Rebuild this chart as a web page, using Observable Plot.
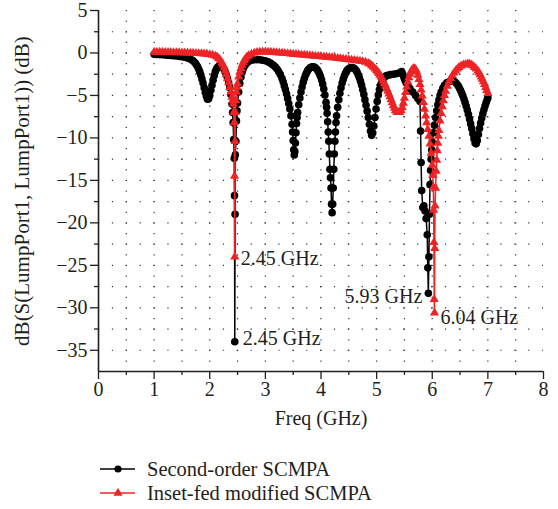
<!DOCTYPE html>
<html>
<head>
<meta charset="utf-8">
<script src="https://cdn.jsdelivr.net/npm/d3@7"></script>
<script src="https://cdn.jsdelivr.net/npm/@observablehq/plot@0.6"></script>
<style>
  body { margin: 0; background: #fff; }
  #chart svg, #legend { display: block; }
</style>
</head>
<body>
<div id="chart"></div>
<svg id="legend" width="558" height="69"></svg>
<script>
// ---- Data ----
const seriesNames = ["Second-order SCMPA", "Inset-fed modified SCMPA"];
const seriesColors = ["#000000", "#ee2326"];

// Series 1: Second-order SCMPA (black circles)
const blackF = [1.00,1.05,1.10,1.15,1.20,1.25,1.30,1.35,1.40,1.45,1.50,1.55,1.60,1.64,1.68,1.71,1.74,1.76,1.78,1.80,1.82,1.84,1.86,1.88,1.90,1.92,1.94,1.96,1.98,2.00,2.02,2.04,2.06,2.08,2.10,2.12,2.14,2.17,2.20,2.23,2.26,2.28,2.30,2.32,2.34,2.36,2.38,2.40,2.41,2.42,2.43,2.44,2.445,2.45,2.455,2.46,2.47,2.48,2.49,2.50,2.52,2.54,2.56,2.58,2.60,2.63,2.66,2.70,2.75,2.80,2.85,2.90,2.95,3.00,3.05,3.09,3.12,3.15,3.18,3.21,3.24,3.27,3.30,3.32,3.34,3.36,3.38,3.40,3.42,3.44,3.46,3.48,3.49,3.50,3.51,3.52,3.53,3.54,3.55,3.56,3.57,3.58,3.60,3.62,3.64,3.66,3.68,3.70,3.72,3.74,3.76,3.78,3.81,3.84,3.87,3.90,3.93,3.95,3.97,3.99,4.01,4.03,4.05,4.07,4.09,4.10,4.11,4.12,4.13,4.14,4.15,4.16,4.17,4.18,4.19,4.20,4.21,4.22,4.23,4.24,4.25,4.26,4.27,4.28,4.30,4.32,4.34,4.36,4.38,4.40,4.42,4.44,4.46,4.48,4.51,4.54,4.57,4.60,4.63,4.65,4.67,4.69,4.71,4.73,4.75,4.77,4.79,4.81,4.83,4.85,4.87,4.89,4.91,4.93,4.95,4.97,4.99,5.01,5.03,5.05,5.07,5.09,5.11,5.14,5.17,5.20,5.25,5.30,5.35,5.40,5.45,5.47,5.49,5.51,5.53,5.56,5.60,5.65,5.70,5.74,5.78,5.79,5.80,5.81,5.83,5.85,5.87,5.89,5.91,5.92,5.93,5.94,5.95,5.96,5.97,5.98,5.99,6.00,6.02,6.04,6.06,6.08,6.10,6.12,6.14,6.16,6.19,6.22,6.26,6.30,6.34,6.38,6.41,6.44,6.47,6.49,6.51,6.53,6.55,6.57,6.59,6.61,6.63,6.65,6.67,6.69,6.71,6.73,6.75,6.77,6.79,6.81,6.83,6.85,6.87,6.89,6.91,6.93,6.95,6.97,6.99,7.00];
const blackDb = [-0.15,-0.17,-0.19,-0.21,-0.24,-0.26,-0.29,-0.32,-0.36,-0.40,-0.45,-0.50,-0.58,-0.68,-0.82,-0.98,-1.18,-1.38,-1.60,-1.88,-2.20,-2.60,-3.05,-3.55,-4.10,-4.65,-5.10,-5.45,-5.40,-5.00,-4.40,-3.80,-3.20,-2.65,-2.20,-1.90,-1.70,-1.55,-1.55,-1.70,-1.95,-2.25,-2.60,-3.00,-3.50,-4.10,-4.90,-6.00,-7.00,-8.20,-10.20,-12.40,-16.80,-34.00,-19.00,-12.00,-10.40,-8.00,-6.80,-5.90,-4.60,-3.60,-2.85,-2.30,-1.90,-1.50,-1.22,-1.00,-0.85,-0.80,-0.78,-0.80,-0.85,-0.92,-1.05,-1.18,-1.32,-1.48,-1.66,-1.90,-2.20,-2.55,-3.00,-3.40,-3.85,-4.30,-4.80,-5.35,-5.95,-6.60,-7.40,-8.40,-9.30,-10.30,-11.40,-12.00,-11.60,-10.60,-9.40,-8.30,-7.60,-7.00,-6.10,-5.30,-4.60,-4.00,-3.45,-3.00,-2.62,-2.32,-2.08,-1.90,-1.72,-1.64,-1.64,-1.74,-1.95,-2.15,-2.42,-2.75,-3.15,-3.65,-4.25,-4.95,-5.80,-6.40,-7.10,-8.10,-9.30,-10.40,-11.90,-13.70,-14.70,-15.90,-17.80,-18.80,-17.80,-15.90,-13.70,-11.90,-10.40,-9.30,-8.20,-7.40,-6.40,-5.50,-4.75,-4.10,-3.55,-3.08,-2.70,-2.38,-2.14,-1.96,-1.80,-1.72,-1.72,-1.82,-2.05,-2.28,-2.58,-2.92,-3.32,-3.78,-4.30,-4.88,-5.50,-6.15,-6.85,-7.60,-8.40,-9.20,-9.70,-9.40,-8.60,-7.60,-6.60,-5.70,-4.95,-4.30,-3.80,-3.40,-3.10,-2.85,-2.70,-2.62,-2.55,-2.50,-2.45,-2.35,-2.20,-2.50,-2.85,-3.20,-3.50,-3.80,-4.20,-4.60,-5.00,-5.35,-5.70,-9.20,-12.90,-16.20,-18.20,-18.00,-18.60,-19.50,-21.40,-25.30,-28.30,-24.00,-19.00,-15.50,-13.80,-12.50,-11.40,-10.50,-9.40,-8.50,-7.60,-6.80,-6.10,-5.50,-5.00,-4.60,-4.15,-3.80,-3.52,-3.38,-3.30,-3.32,-3.42,-3.62,-3.90,-4.15,-4.42,-4.72,-5.05,-5.42,-5.82,-6.25,-6.72,-7.22,-7.76,-8.32,-8.90,-9.50,-10.10,-10.60,-10.70,-10.30,-9.60,-8.90,-8.25,-7.65,-7.12,-6.65,-6.22,-5.82,-5.45,-5.25];

// Series 2: Inset-fed modified SCMPA (red triangles)
const redF = [1.00,1.05,1.10,1.15,1.20,1.25,1.30,1.35,1.40,1.45,1.50,1.55,1.60,1.65,1.70,1.75,1.80,1.85,1.90,1.95,2.00,2.05,2.10,2.13,2.16,2.19,2.22,2.24,2.26,2.28,2.30,2.32,2.34,2.36,2.38,2.40,2.41,2.42,2.43,2.44,2.445,2.45,2.455,2.46,2.47,2.48,2.49,2.50,2.52,2.54,2.56,2.58,2.60,2.62,2.64,2.67,2.70,2.75,2.80,2.85,2.90,2.95,3.00,3.05,3.10,3.15,3.20,3.25,3.30,3.35,3.40,3.45,3.50,3.55,3.60,3.65,3.70,3.75,3.80,3.85,3.90,3.95,4.00,4.05,4.10,4.15,4.20,4.25,4.30,4.35,4.40,4.45,4.50,4.55,4.60,4.65,4.70,4.75,4.80,4.85,4.88,4.91,4.94,4.97,5.00,5.02,5.04,5.06,5.08,5.10,5.12,5.14,5.16,5.18,5.20,5.22,5.24,5.26,5.28,5.30,5.32,5.34,5.36,5.38,5.40,5.42,5.44,5.46,5.48,5.50,5.52,5.54,5.56,5.58,5.60,5.62,5.64,5.66,5.68,5.70,5.72,5.74,5.76,5.78,5.80,5.82,5.84,5.86,5.88,5.90,5.92,5.94,5.96,5.98,6.00,6.01,6.02,6.025,6.03,6.035,6.04,6.045,6.05,6.06,6.07,6.08,6.09,6.10,6.11,6.12,6.14,6.16,6.18,6.20,6.22,6.24,6.27,6.30,6.33,6.36,6.39,6.42,6.45,6.48,6.52,6.56,6.60,6.64,6.67,6.70,6.73,6.76,6.79,6.82,6.84,6.86,6.88,6.90,6.92,6.94,6.96,6.98,7.00];
const redDb = [0.10,0.10,0.10,0.10,0.09,0.08,0.07,0.06,0.05,0.04,0.03,0.02,0.01,0.00,-0.02,-0.04,-0.06,-0.08,-0.11,-0.14,-0.18,-0.25,-0.35,-0.45,-0.62,-0.85,-1.15,-1.40,-1.72,-2.10,-2.52,-3.00,-3.50,-4.05,-4.60,-5.20,-5.60,-6.00,-7.00,-8.20,-14.50,-24.00,-10.40,-7.00,-5.60,-4.60,-4.05,-3.60,-2.80,-2.25,-1.80,-1.42,-1.12,-0.88,-0.68,-0.45,-0.30,-0.12,0.00,0.08,0.12,0.14,0.14,0.12,0.10,0.08,0.05,0.02,0.00,-0.03,-0.06,-0.09,-0.12,-0.15,-0.18,-0.21,-0.24,-0.27,-0.30,-0.33,-0.36,-0.39,-0.42,-0.45,-0.48,-0.51,-0.54,-0.58,-0.62,-0.66,-0.70,-0.74,-0.78,-0.82,-0.86,-0.90,-0.95,-1.00,-1.08,-1.20,-1.32,-1.48,-1.66,-1.86,-2.05,-2.22,-2.40,-2.60,-2.82,-3.05,-3.30,-3.58,-3.88,-4.20,-4.50,-4.82,-5.15,-5.50,-5.85,-6.20,-6.50,-6.75,-6.92,-7.00,-7.00,-6.95,-6.75,-6.40,-5.90,-5.30,-4.65,-4.00,-3.40,-2.90,-2.48,-2.15,-1.95,-1.84,-1.82,-1.92,-2.20,-2.60,-3.10,-3.70,-4.35,-5.05,-5.80,-6.60,-7.40,-8.20,-9.00,-9.80,-10.70,-11.80,-13.20,-14.40,-15.80,-18.50,-22.30,-29.00,-30.60,-23.00,-18.00,-15.90,-13.90,-12.60,-11.50,-10.60,-9.80,-9.10,-8.00,-7.10,-6.30,-5.60,-5.00,-4.50,-3.90,-3.40,-3.00,-2.65,-2.35,-2.10,-1.88,-1.70,-1.52,-1.40,-1.32,-1.28,-1.30,-1.40,-1.52,-1.68,-1.88,-2.12,-2.32,-2.55,-2.80,-3.08,-3.38,-3.70,-4.05,-4.40,-4.75];

// Axis ticks
const xMajorTicks = [0, 1, 2, 3, 4, 5, 6, 7, 8];
const xMinorTicks = [0.5, 1.5, 2.5, 3.5, 4.5, 5.5, 6.5, 7.5];
const yMajorTicks = [5, 0, -5, -10, -15, -20, -25, -30, -35];
const yMinorTicks = [2.5, -2.5, -7.5, -12.5, -17.5, -22.5, -27.5, -32.5];
const xGrid = [0.5, 1, 1.5, 2, 2.5, 3, 3.5, 4, 4.5, 5, 5.5, 6, 6.5, 7, 7.5];
const yGrid = [2.5, 0, -2.5, -5, -7.5, -10, -12.5, -15, -17.5, -20, -22.5, -25, -27.5, -30, -32.5, -35];

// Annotations
const annF = [2.45, 2.45, 5.93, 6.04];
const annDb = [-24, -34, -28.3, -30.6];
const annLabel = ["2.45 GHz", "2.45 GHz", "5.93 GHz", "6.04 GHz"];

const xLabel = "Freq (GHz)";
const yLabel = "dB(S(LumpPort1, LumpPort1)) (dB)";

// ---- Build ----
const black = blackF.map((f, i) => ({f, db: blackDb[i]}));
const red = redF.map((f, i) => ({f, db: redDb[i]}));
const ann = annF.map((f, i) => ({f, db: annDb[i], label: annLabel[i], i}));

const ink = "#231f20";
const font = "Liberation Serif, Times New Roman, serif";
const minus = d => d < 0 ? "\u2212" + (-d) : String(d);

const chart = Plot.plot({
  width: 558,
  height: 440,
  marginLeft: 98,
  marginRight: 15,
  marginTop: 10,
  marginBottom: 69,
  style: {fontFamily: font, fontSize: "20px", color: ink, background: "#fff"},
  x: {domain: [0, 8]},
  y: {domain: [-37.5, 5]},
  marks: [
    Plot.ruleX(xGrid, {stroke: "#333", strokeWidth: 1.2, strokeDasharray: "1.2,9.42"}),
    Plot.ruleY(yGrid, {stroke: "#333", strokeWidth: 1.2, strokeDasharray: "1.2,12.675"}),
    Plot.line(black, {x: "f", y: "db", stroke: seriesColors[0], strokeWidth: 1.5}),
    Plot.dot(black, {x: "f", y: "db", r: 3.8, fill: seriesColors[0]}),
    Plot.line(red, {x: "f", y: "db", stroke: seriesColors[1], strokeWidth: 1.5}),
    Plot.dot(red, {x: "f", y: "db", r: 3.4, symbol: "triangle", fill: seriesColors[1]}),
    Plot.axisY({ticks: yMajorTicks, tickSize: 8, tickPadding: 3, tickFormat: minus, label: null, fontSize: 20, stroke: ink, strokeWidth: 1.3}),
    Plot.axisY({ticks: yMinorTicks, tickSize: 4, text: null, label: null, stroke: ink, strokeWidth: 1.3}),
    Plot.axisX({ticks: xMajorTicks, tickSize: 8, tickPadding: 2, tickFormat: minus, label: null, fontSize: 20, stroke: ink, strokeWidth: 1.3}),
    Plot.axisX({ticks: xMinorTicks, tickSize: 4, text: null, label: null, stroke: ink, strokeWidth: 1.3}),
    Plot.ruleX([0], {stroke: ink, strokeWidth: 1.6}),
    Plot.ruleY([-37.5], {stroke: ink, strokeWidth: 1.6}),
    Plot.text(ann.filter(d => d.i === 0), {x: "f", y: "db", text: "label", textAnchor: "start", dx: 6, dy: 2, fontSize: 20, fill: ink}),
    Plot.text(ann.filter(d => d.i === 1), {x: "f", y: "db", text: "label", textAnchor: "start", dx: 8, dy: -3, fontSize: 20, fill: ink}),
    Plot.text(ann.filter(d => d.i === 2), {x: "f", y: "db", text: "label", textAnchor: "end", dx: -6, dy: 3, fontSize: 20, fill: ink}),
    Plot.text(ann.filter(d => d.i === 3), {x: "f", y: "db", text: "label", textAnchor: "start", dx: 6, dy: 5, fontSize: 20, fill: ink}),
    Plot.text([xLabel], {frameAnchor: "bottom", dy: 53, fontSize: 20, fill: ink}),
    Plot.text([yLabel], {frameAnchor: "left", textAnchor: "middle", dx: -76, rotate: -90, fontSize: 21, fill: ink})
  ]
});
document.getElementById("chart").appendChild(chart);

// ---- Legend ----
const lg = d3.select("#legend");
const rowsY = [29, 53];
seriesNames.forEach((name, i) => {
  const g = lg.append("g").attr("transform", `translate(0,${rowsY[i]})`);
  g.append("line").attr("x1", 100).attr("x2", 135).attr("y1", 0).attr("y2", 0)
    .attr("stroke", seriesColors[i]).attr("stroke-width", 1.5);
  if (i === 0) {
    g.append("circle").attr("cx", 118).attr("cy", 0).attr("r", 3.6).attr("fill", seriesColors[i]);
  } else {
    g.append("path").attr("transform", "translate(118,0)")
      .attr("d", d3.symbol(d3.symbolTriangle, Math.PI * 3.4 * 3.4)()).attr("fill", seriesColors[i]);
  }
  g.append("text").attr("x", 147).attr("y", 7).attr("font-family", font).attr("font-size", 20.5)
    .attr("fill", ink).text(name);
});
</script>
</body>
</html>
